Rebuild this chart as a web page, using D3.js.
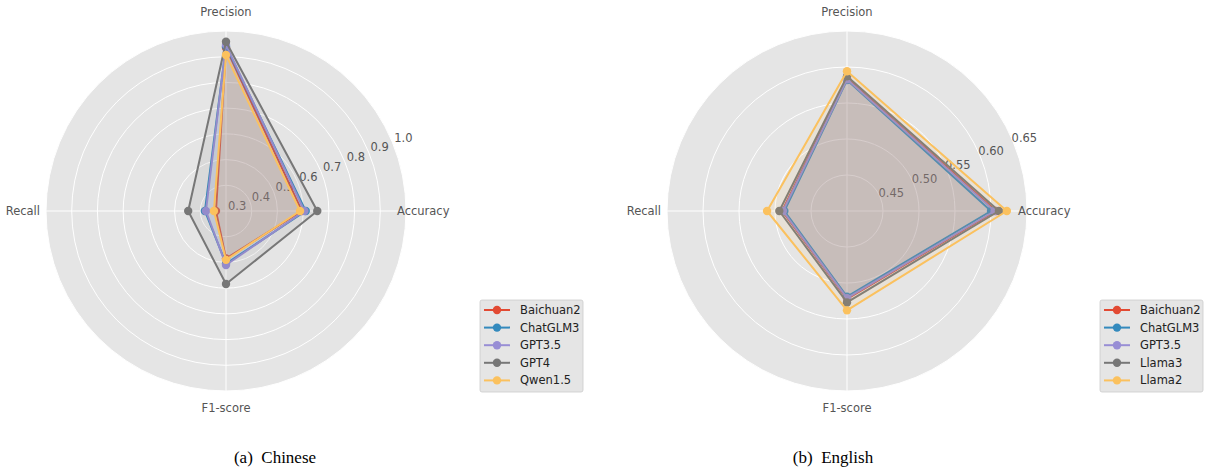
<!DOCTYPE html>
<html><head><meta charset="utf-8">
<script src="https://d3js.org/d3.v7.min.js"></script>
<style>body{margin:0;background:#fff}svg{display:block}</style>
</head><body>
<svg id="c" width="1208" height="469"></svg>
<script>
// ---- data ----
const axes = ["Accuracy", "Precision", "Recall", "F1-score"];

const seriesZh = ["Baichuan2", "ChatGLM3", "GPT3.5", "GPT4", "Qwen1.5"];
const baichuan2Zh = [0.595, 0.935, 0.339, 0.485];
const chatglm3Zh  = [0.610, 0.940, 0.382, 0.505];
const gpt35Zh     = [0.605, 0.946, 0.378, 0.510];
const gpt4Zh      = [0.655, 0.958, 0.447, 0.584];
const qwen15Zh    = [0.588, 0.907, 0.347, 0.490];
const ticksZh = [0.3, 0.4, 0.5, 0.6, 0.7, 0.8, 0.9, 1.0];
const tickLabelsZh = ["0.3","0.4","0.5","0.6","0.7","0.8","0.9","1.0"];
const domainZh = [0.3, 1.0];

const seriesEn = ["Baichuan2", "ChatGLM3", "GPT3.5", "Llama3", "Llama2"];
const baichuan2En = [0.607, 0.584, 0.490, 0.522];
const chatglm3En  = [0.600, 0.582, 0.487, 0.519];
const gpt35En     = [0.605, 0.583, 0.489, 0.521];
const llama3En    = [0.611, 0.587, 0.494, 0.527];
const llama2En    = [0.622, 0.594, 0.511, 0.538];
const ticksEn = [0.45, 0.50, 0.55, 0.60, 0.65];
const tickLabelsEn = ["0.45","0.50","0.55","0.60","0.65"];
const domainEn = [0.4, 0.65];

const colors = ["#E24A33", "#348ABD", "#988ED5", "#777777", "#FBC15E"];
const captions = ["(a)  Chinese", "(b)  English"];

// ---- drawing ----
const svg = d3.select("#c");
const R = 180;
const font = "'DejaVu Sans', sans-serif";

function radar(cx, cy, names, values, domain, ticks, tickLabels, legendX, caption, capX) {
  const g = svg.append("g").attr("transform", `translate(${cx},${cy})`);
  const r = d3.scaleLinear().domain(domain).range([0, R]);
  const ang = d3.scaleOrdinal().domain(axes).range([0, Math.PI/2, Math.PI, 3*Math.PI/2]);
  const px = (a, v) => r(v) * Math.cos(ang(a));
  const py = (a, v) => -r(v) * Math.sin(ang(a));

  g.append("circle").attr("r", R).attr("fill", "#E5E5E5");
  g.selectAll(".ring").data(ticks.filter(t => r(t) > 0.5)).join("circle")
    .attr("r", d => r(d)).attr("fill", "none").attr("stroke", "#fff").attr("stroke-width", 1);
  g.selectAll(".spoke").data(axes).join("line")
    .attr("x1", 0).attr("y1", 0)
    .attr("x2", d => R * Math.cos(ang(d))).attr("y2", d => -R * Math.sin(ang(d)))
    .attr("stroke", "#fff").attr("stroke-width", 1);

  const la = 22.5 * Math.PI / 180;
  g.selectAll(".tl").data(ticks).join("text")
    .attr("x", (d) => (r(d) + 12) * Math.cos(la))
    .attr("y", (d) => -(r(d) + 12) * Math.sin(la))
    .attr("text-anchor", "middle").attr("dominant-baseline", "central")
    .attr("font-family", font).attr("font-size", 11.5).attr("fill", "#555")
    .text((d, i) => tickLabels[i]);

  // axis labels
  const lab = [
    {a: "Accuracy", x: R - 9, y: 0, anchor: "start"},
    {a: "Precision", x: 0, y: -R - 19, anchor: "middle"},
    {a: "Recall", x: -R - 6, y: 0, anchor: "end"},
    {a: "F1-score", x: 0, y: R + 17, anchor: "middle"}
  ];
  g.selectAll(".al").data(lab).join("text")
    .attr("x", d => d.x).attr("y", d => d.y)
    .attr("text-anchor", d => d.anchor).attr("dominant-baseline", "central")
    .attr("font-family", font).attr("font-size", 11.5).attr("fill", "#555")
    .text(d => d.a);

  const line = d3.line().curve(d3.curveLinearClosed);
  values.forEach((vals, i) => {
    const pts = axes.map((a, k) => [px(a, vals[k]), py(a, vals[k])]);
    g.append("path").attr("d", line(pts))
      .attr("fill", colors[i]).attr("fill-opacity", 0.1)
      .attr("stroke", colors[i]).attr("stroke-width", 2).attr("stroke-linejoin", "round");
    g.selectAll(null).data(pts).join("circle")
      .attr("cx", d => d[0]).attr("cy", d => d[1]).attr("r", 4.2)
      .attr("fill", colors[i]);
  });

  // legend
  const lg = svg.append("g").attr("transform", `translate(${legendX},300)`);
  lg.append("rect").attr("x", 0).attr("y", 0).attr("width", 103).attr("height", 92)
    .attr("rx", 2).attr("fill", "#E5E5E5").attr("stroke", "#CCCCCC").attr("stroke-width", 0.8);
  names.forEach((n, i) => {
    const y = 10 + i * 17.6;
    lg.append("line").attr("x1", 4).attr("x2", 30).attr("y1", y).attr("y2", y)
      .attr("stroke", colors[i]).attr("stroke-width", 2);
    lg.append("circle").attr("cx", 17).attr("cy", y).attr("r", 4.2).attr("fill", colors[i]);
    lg.append("text").attr("x", 40).attr("y", y).attr("dominant-baseline", "central")
      .attr("font-family", font).attr("font-size", 11.5).attr("fill", "#222").text(n);
  });

  svg.append("text").attr("x", capX).attr("y", 463).attr("text-anchor", "middle")
    .attr("font-family", "'Liberation Serif', 'Times New Roman', serif").attr("font-size", 17)
    .attr("fill", "#000").attr("xml:space", "preserve").style("white-space", "pre").text(caption);
}

radar(226, 211, seriesZh, [baichuan2Zh, chatglm3Zh, gpt35Zh, gpt4Zh, qwen15Zh],
      domainZh, ticksZh, tickLabelsZh, 480, captions[0], 275);
radar(847, 211, seriesEn, [baichuan2En, chatglm3En, gpt35En, llama3En, llama2En],
      domainEn, ticksEn, tickLabelsEn, 1100, captions[1], 833);
</script>
</body></html>
